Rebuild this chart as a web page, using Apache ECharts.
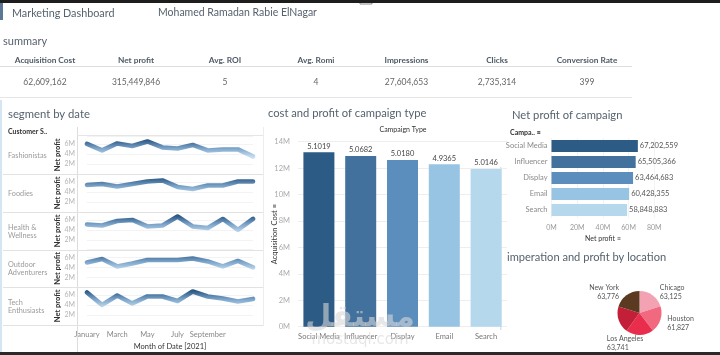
<!DOCTYPE html>
<html><head><meta charset="utf-8">
<script src="https://cdn.jsdelivr.net/npm/echarts@6/dist/echarts.min.js"></script>
<style>html,body{margin:0;padding:0;background:#fff}#c{width:720px;height:355px}</style>
</head><body><div id="c"></div>
<script>
// ---- data ----
const kpiLabels = ['Acquisition Cost','Net profit','Avg. ROI','Avg. Romi','Impressions','Clicks','Conversion Rate'];
const kpiValues = ['62,609,162','315,449,846','5','4','27,604,653','2,735,314','399'];
const months = ['January','February','March','April','May','June','July','August','September','October','November','December'];
const segments = ['Fashionistas','Foodies','Health &\nWellness','Outdoor\nAdventurers','Tech\nEnthusiasts'];
// net profit per month, millions
const fashionistas = [6.0,4.7,6.1,5.6,6.5,5.3,5.1,5.8,4.7,4.9,4.9,3.5];
const foodies      = [5.4,5.6,5.1,5.6,6.1,6.3,5.0,4.6,5.3,5.3,6.1,6.1];
const health       = [5.1,4.9,5.8,6.0,4.7,4.9,6.7,4.7,4.4,6.2,4.0,6.2];
const outdoor      = [5.0,5.7,4.2,4.8,5.5,5.5,5.5,5.8,5.2,4.2,5.3,4.0];
const tech         = [6.5,4.0,5.9,4.3,5.7,5.7,4.8,6.7,5.7,5.3,4.7,5.2];
const segmentValues = [fashionistas, foodies, health, outdoor, tech];
const segTicks = [2,4,6];

const campaigns = ['Social Media','Influencer','Display','Email','Search'];
const acquisitionCost = [13.2e6,12.92e6,12.62e6,12.29e6,11.94e6];
const roiLabels = ['5.1019','5.0682','5.0180','4.9365','5.0146'];
const campaignProfit = [67202559,65505366,63464683,60428355,58848883];
const campaignColors = ['#2c5b85','#43719d','#5b8ebd','#98c4e3','#b6d8ed'];

const locations = ['Chicago','Houston','Los Angeles','Miami','New York'];
const locationProfit = [63125,61827,63741,62400,63776];
const locationColors = ['#f2a2b2','#f1687f','#e82e4c','#c31f39','#5b3a22'];

// ---- layout ----
const FONT = 'Lato, "Open Sans", sans-serif';
const panelTops = [136,174,212,249.5,287];
const panelH = 37.8;
const titleColor = '#56626e';

const grids = [], xAxes = [], yAxes = [], series = [];
segmentValues.forEach((vals, i) => {
  grids.push({left:87, width:166, top:panelTops[i], height:panelH});
  const last = i === segmentValues.length-1;
  xAxes.push({type:'category', gridIndex:i, data:months, boundaryGap:false,
    axisLine:{show:false}, axisTick:{show:false}, splitLine:{show:false},
    axisLabel:{show:last, fontSize:7.5, color:'#888', margin:6, fontFamily:FONT,
      interval:(idx)=> idx%2===0 && idx<10},
    name: last ? 'Month of Date [2021]' : '', nameLocation:'middle', nameGap:18, nameMoveOverlap:false,
    nameTextStyle:{fontSize:7.5, color:'#333', fontFamily:FONT}});
  yAxes.push({type:'value', gridIndex:i, min:0, max:7.6, interval:2,
    axisLine:{show:false}, axisTick:{show:false},
    splitLine:{show:true, lineStyle:{color:'#f3f3f3', width:1}},
    axisLabel:{fontSize:7, color:'#b5b5b5', margin:12, showMinLabel:false, showMaxLabel:false,
      formatter:(v)=> segTicks.includes(v) ? v+'M' : '', fontFamily:FONT},
    name:'Net profit', nameLocation:'middle', nameRotate:90, nameGap:25, nameMoveOverlap:false,
    nameTextStyle:{fontSize:7.5, color:'#333', fontWeight:'bold', fontFamily:FONT}});
  series.push({type:'line', xAxisIndex:i, yAxisIndex:i, data:vals, symbol:'none',
    lineStyle:{width:4.6, cap:'round', join:'round'}, silent:true});
});

// bar chart: cost and profit of campaign type
grids.push({left:298, width:209, top:141.7, height:185});
xAxes.push({type:'category', gridIndex:5, data:campaigns, axisLine:{show:false}, axisTick:{show:false},
  axisLabel:{fontSize:7.5, color:'#777', margin:6, fontFamily:FONT, interval:0}});
yAxes.push({type:'value', gridIndex:5, min:0, max:14e6, interval:2e6,
  axisLine:{show:false}, axisTick:{show:false},
  splitLine:{lineStyle:{color:'#eeeeee'}},
  axisLabel:{fontSize:7.5, color:'#aaa', margin:8, formatter:(v)=> (v/1e6)+'M', fontFamily:FONT},
  name:'Acquisition Cost \u2261', nameLocation:'middle', nameRotate:90, nameGap:19, nameMoveOverlap:false,
  nameTextStyle:{fontSize:7.5, color:'#333', fontFamily:FONT}});
series.push({type:'bar', xAxisIndex:5, yAxisIndex:5, barWidth:31,
  data: acquisitionCost.map((v,i)=>({value:v, itemStyle:{color:campaignColors[i]}})),
  label:{show:true, position:'top', distance:2, fontSize:7.5, color:'#444', fontFamily:FONT,
    formatter:(p)=> roiLabels[p.dataIndex]}, silent:true});

// horizontal bar: net profit of campaign
grids.push({left:551.5, width:102.8, top:138, height:80});
xAxes.push({type:'value', gridIndex:6, min:0, max:80e6, interval:20e6,
  axisLine:{show:false}, axisTick:{show:false}, splitLine:{lineStyle:{color:'#f3f3f3'}},
  axisLabel:{fontSize:7, color:'#999', margin:6, formatter:(v)=> (v/1e6)+'M', fontFamily:FONT},
  name:'Net profit \u2261', nameLocation:'middle', nameGap:17, nameMoveOverlap:false,
  nameTextStyle:{fontSize:7, color:'#333', fontFamily:FONT}});
yAxes.push({type:'category', gridIndex:6, data:campaigns, inverse:true,
  axisLine:{show:false}, axisTick:{show:false},
  axisLabel:{fontSize:7.5, color:'#8a8a8a', margin:4, fontFamily:FONT}});
series.push({type:'bar', xAxisIndex:6, yAxisIndex:6, barWidth:12,
  data: campaignProfit.map((v,i)=>({value:v, itemStyle:{color:campaignColors[i]}})),
  label:{show:true, position:'right', distance:2, fontSize:7.5, color:'#555', fontFamily:FONT,
    formatter:(p)=> p.value.toLocaleString('en-US')}, silent:true});

// pie: location
series.push({type:'pie', center:[639.5,313], radius:22, startAngle:90, clockwise:true,
  silent:true, avoidLabelOverlap:false,
  data: locations.map((n,i)=>({name:n, value:locationProfit[i], itemStyle:{color:locationColors[i]},
    label:{show: n!=='Miami'}})),
  label:{show:true, position:'outside', fontSize:7, color:'#555', lineHeight:9, fontFamily:FONT,
    formatter:(p)=> p.name+'\n'+p.value.toLocaleString('en-US')},
  labelLine:{show:false, length:4, length2:0},
  labelLayout:(p)=> p.text && p.text.indexOf('Los Angeles')===0 ? {dx:-38, dy:4}
                  : p.text && p.text.indexOf('Houston')===0 ? {dx:-2, dy:2} : {}});

// ---- graphics (text & frame lines) ----
const g = [];
const txt = (t,x,y,o={}) => g.push({type:'text', x, y, z:10, silent:true, style:Object.assign({
  text:t, font:(o.w||'normal')+' '+(o.s||11)+'px '+FONT, fill:o.c||titleColor,
  textAlign:o.a||'left', align:o.a||'left', textVerticalAlign:'middle', verticalAlign:'middle',
  lineHeight:o.lh||undefined}, o.extra||{})});
const line = (x1,y1,x2,y2,c='#e2e2e2',w=1) => g.push({type:'line', silent:true, z:1,
  shape:{x1,y1,x2,y2}, style:{stroke:c, lineWidth:w}});
const rect = (x,y,w,h,c) => g.push({type:'rect', silent:true, z:1, shape:{x,y,width:w,height:h}, style:{fill:c}});

rect(0,0,720,3,'#1d1d1d');
rect(0,352,720,3,'#2a2a2a');
rect(0,3,3,17,'#5b7795');
g.push({type:'rect', silent:true, shape:{x:360,y:-1,width:12,height:5}, style:{fill:'#fff', stroke:'#888', lineWidth:1}});
rect(0,100,2,252,'#d4e5f3');
rect(500,167,1.5,163,'#d4e5f3');

txt('Marketing Dashboard',12,14,{s:10.8});
txt('Mohamed Ramadan Rabie ElNagar',158,13,{s:10.5});
txt('summary',3,41,{s:11});
const kpiX = [45,136,225,316,406.5,497,587];
kpiLabels.forEach((l,i)=>{
  txt(l,kpiX[i],60.5,{s:8.3,w:'bold',a:'center',c:'#4e5a66'});
  txt(kpiValues[i],kpiX[i],82,{s:8.5,a:'center',c:'#666'});
});
line(0,66.5,632,66.5,'#dddddd');
line(0,97.5,632,97.5,'#e6e6e6');

txt('segment by date',8,114,{s:11.3});
txt('Customer S..',8,132,{s:7,w:'bold',c:'#333'});
line(77.5,127,77.5,352,'#dcdcdc');
line(77,135.5,263,135.5,'#e6e6e6');
panelTops.forEach((t,i)=>{
  const y = Math.round(t+panelH)+0.5;
  line(3,y,263,y,'#e2e2e2');
  txt(segments[i],8,t+panelH/2+0.5,{s:7.3,c:'#9a9a9a',lh:8});
});
line(263.5,127,263.5,326,'#ececec');

txt('cost and profit of campaign type',268,113,{s:11.2});
txt('Campaign Type',403,130,{s:7,a:'center',c:'#333'});

txt('Net profit of campaign',512,115,{s:11.2});
txt('Campa.. \u2261',510,133,{s:7,w:'bold',c:'#333'});

txt('imperation and profit by location',507,257,{s:11.1});

// watermark
g.push({type:'text', x:360, y:318, z:20, silent:true, style:{text:'\u0645\u0633\u062a\u0642\u0644',
  font:'bold 30px "DejaVu Sans", sans-serif', fill:'rgba(215,215,215,0.6)', textAlign:'center', align:'center',
  textVerticalAlign:'middle', verticalAlign:'middle'}});
g.push({type:'text', x:360, y:340, z:20, silent:true, style:{text:'mostaql.com',
  font:'15px "DejaVu Sans", sans-serif', fill:'rgba(215,215,215,0.6)', textAlign:'center', align:'center',
  textVerticalAlign:'middle', verticalAlign:'middle'}});

const chart = echarts.init(document.getElementById('c'), null, {renderer:'canvas'});
chart.setOption({
  animation:false,
  backgroundColor:'#ffffff',
  textStyle:{fontFamily:FONT},
  grid:grids, xAxis:xAxes, yAxis:yAxes, series,
  visualMap:{type:'continuous', show:false, seriesIndex:[0,1,2,3,4], dimension:1,
    min:3.5, max:6.8, inRange:{color:['#c3dbee','#7aa3c9','#2b5884']}},
  graphic:g
});
</script></body></html>
